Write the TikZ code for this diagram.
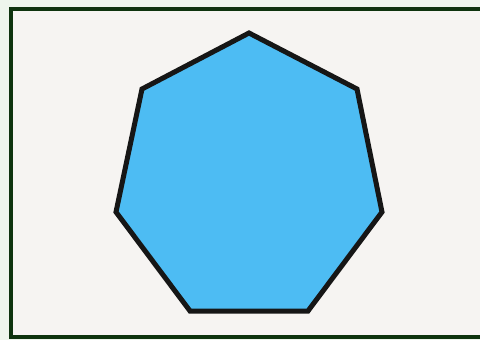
\documentclass[tikz,border=0pt]{standalone}
\usepackage{tikz}
\definecolor{paperBack}{HTML}{F6F4F2}
\definecolor{outerBack}{HTML}{EEF5EC}
\definecolor{frameGreen}{HTML}{0E330E}
\definecolor{heptaBlue}{HTML}{4DBCF3}
\definecolor{heptaInk}{HTML}{161616}
\begin{document}
\begin{tikzpicture}[
    x=1pt, y=-1pt,
    frame/.style={draw=frameGreen, line width=4pt, fill=paperBack},
    hepta/.style={draw=heptaInk, fill=heptaBlue, line width=5pt, line join=miter}
]
    \fill[outerBack] (0,0) rectangle (480,340);
    \useasboundingbox (0,0) rectangle (480,340);
    \draw[frame] (10.5,8.5) rectangle (486,337);

    \coordinate (top) at (249,33);
    \coordinate (upRight) at (357,89);
    \coordinate (right) at (382,212);
    \coordinate (lowRight) at (308,311);
    \coordinate (lowLeft) at (190,311);
    \coordinate (left) at (116,212);
    \coordinate (upLeft) at (142,89);

    \draw[hepta] (top) -- (upRight) -- (right) -- (lowRight) -- (lowLeft) -- (left) -- (upLeft) -- cycle;
\end{tikzpicture}
\end{document}
